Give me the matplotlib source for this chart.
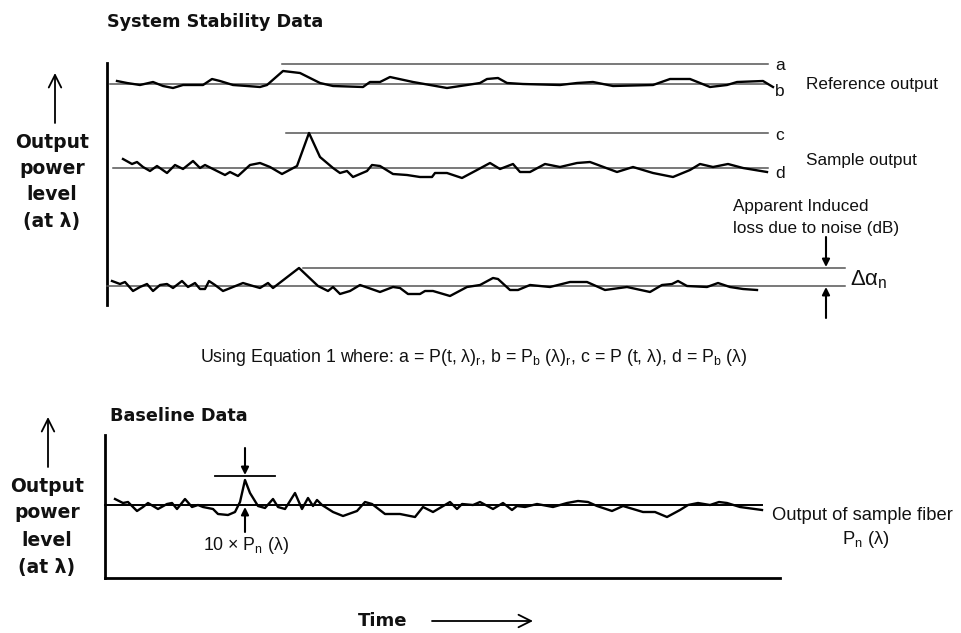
import matplotlib.pyplot as plt

plt.rcParams['mathtext.fontset'] = 'custom'
plt.rcParams['mathtext.rm'] = 'Liberation Sans'
plt.rcParams['mathtext.it'] = 'Liberation Sans:italic'

# traces (x = time, y = drawing units, down is larger)
ref_x = [117, 127, 140, 153, 163, 173, 183, 203, 212, 220, 233, 247, 260, 267, 283, 300,
         320, 333, 363, 370, 380, 390, 413, 447, 467, 480, 487, 498, 507, 523, 560, 577,
         593, 613, 653, 670, 690, 710, 727, 737, 763, 768, 773]
ref_y = [81, 83, 85, 82, 86, 88, 85, 85, 79, 81, 85, 86, 87, 85, 71, 73,
         83, 86, 87, 82, 82, 77, 82, 88, 85, 83, 79, 78, 83, 84, 85, 83,
         82, 86, 85, 79, 79, 87, 85, 82, 81, 84, 87]

samp_x = [123, 132, 137, 143, 150, 157, 167, 175, 183, 193, 200, 205, 213, 225, 230, 238,
          250, 260, 270, 282, 297, 309, 320, 333, 340, 347, 353, 367, 372, 380, 393, 407,
          420, 432, 435, 447, 462, 477, 490, 500, 513, 520, 530, 545, 560, 577, 590, 617,
          633, 653, 673, 690, 700, 713, 728, 743, 767]
samp_y = [159, 164, 162, 167, 171, 166, 173, 165, 169, 161, 168, 165, 169, 175, 172, 176,
          165, 163, 167, 174, 166, 133, 157, 168, 173, 171, 177, 171, 165, 166, 174, 175,
          177, 177, 173, 173, 178, 170, 163, 169, 164, 172, 172, 164, 167, 163, 162, 172,
          167, 173, 177, 170, 164, 167, 164, 168, 172]

noise_x = [112, 120, 125, 133, 140, 147, 153, 160, 167, 173, 182, 188, 195, 200, 205, 209,
           215, 223, 233, 243, 253, 260, 268, 273, 299, 318, 328, 333, 340, 350, 360, 380,
           393, 400, 408, 420, 425, 433, 450, 467, 480, 493, 498, 510, 518, 530, 550, 570,
           587, 605, 627, 650, 662, 672, 678, 687, 707, 718, 730, 743, 757]
noise_y = [281, 284, 282, 291, 287, 284, 291, 285, 284, 288, 281, 287, 283, 289, 289, 281,
           285, 291, 287, 283, 286, 288, 283, 288, 268, 286, 291, 287, 294, 291, 285, 292,
           287, 288, 294, 294, 291, 291, 296, 287, 285, 278, 279, 290, 290, 285, 287, 282,
           282, 290, 287, 292, 285, 284, 281, 286, 287, 283, 287, 289, 290]

base_x = [115, 123, 128, 137, 143, 148, 158, 167, 172, 177, 185, 192, 198, 203, 213, 218,
          228, 235, 240, 245, 250, 258, 265, 273, 278, 285, 295, 302, 308, 313, 317, 322,
          333, 343, 357, 365, 372, 385, 400, 415, 423, 433, 450, 457, 462, 473, 480, 493,
          503, 512, 517, 525, 537, 553, 567, 578, 588, 597, 612, 623, 643, 655, 667, 680,
          688, 698, 710, 719, 727, 740, 762]
base_y = [499, 503, 502, 511, 507, 503, 509, 504, 503, 509, 499, 507, 505, 507, 509, 514,
          515, 512, 502, 480, 493, 506, 508, 499, 507, 509, 493, 509, 498, 506, 500, 505,
          512, 516, 511, 502, 504, 514, 514, 517, 507, 512, 502, 509, 504, 505, 502, 509,
          503, 510, 506, 507, 504, 507, 503, 501, 502, 506, 511, 506, 512, 512, 517, 510,
          505, 503, 505, 502, 503, 507, 510]

fig = plt.figure(figsize=(9.61, 6.33), dpi=100)
ax = fig.add_axes([0, 0, 1, 1])
ax.set_xlim(0, 961)
ax.set_ylim(633, 0)
ax.axis('off')

reg = dict(family='Liberation Sans', color='#111111')
bold = dict(family='DejaVu Sans', fontweight='bold', color='#111111')
thin = dict(color='#555555', lw=1.1)
trace = dict(color='black', lw=1.7, solid_joinstyle='round')
small_arrow = dict(arrowstyle='-|>', color='black', lw=1.5,
                   mutation_scale=11, shrinkA=0, shrinkB=0)
open_arrow = dict(arrowstyle='->,head_length=0.9,head_width=0.45',
                  color='black', lw=1.3, shrinkA=0, shrinkB=0)

# ---- System stability panel ----
ax.text(107, 22, 'System Stability Data', fontsize=12.7, va='center', ha='left', **bold)
ax.plot([107, 107], [63, 305], color='black', lw=2.0)

ax.plot([110, 768], [84, 84], **thin)
ax.plot([282, 768], [64, 64], **thin)
ax.plot(ref_x, ref_y, **trace)
ax.text(775, 65, 'a', fontsize=12.5, va='center', **reg)
ax.text(775, 92, 'b', fontsize=12.5, va='center', **reg)
ax.text(806, 84, 'Reference output', fontsize=12.3, va='center', **reg)

ax.plot([113, 768], [168, 168], **thin)
ax.plot([286, 768], [133, 133], **thin)
ax.plot(samp_x, samp_y, **trace)
ax.text(775, 136, 'c', fontsize=12.5, va='center', **reg)
ax.text(775, 174, 'd', fontsize=12.5, va='center', **reg)
ax.text(806, 160, 'Sample output', fontsize=12.3, va='center', **reg)

ax.plot([107, 845], [286, 286], **thin)
ax.plot([303, 845], [268, 268], **thin)
ax.plot(noise_x, noise_y, **trace)
ax.text(733, 207, 'Apparent Induced', fontsize=12.3, va='center', **reg)
ax.text(733, 228, 'loss due to noise (dB)', fontsize=12.3, va='center', **reg)
ax.annotate('', xy=(826, 267), xytext=(826, 237), arrowprops=small_arrow)
ax.annotate('', xy=(826, 287), xytext=(826, 318), arrowprops=small_arrow)
ax.text(850, 280, r'Δα$_\mathrm{n}$', fontsize=16, va='center', **reg)

ax.annotate('', xy=(55, 73), xytext=(55, 123), arrowprops=open_arrow)
for txt, yy in zip(['Output', 'power', 'level', '(at λ)'], [143, 169, 195, 221]):
    ax.text(52, yy, txt, fontsize=13.5, ha='center', va='center', **bold)

ax.text(474, 357, r'Using Equation 1 where: a = P(t, λ)$_\mathrm{r}$, b = P$_\mathrm{b}$ (λ)$_\mathrm{r}$, '
        r'c = P (t, λ), d = P$_\mathrm{b}$ (λ)', fontsize=12.8, ha='center', va='center', **reg)

# ---- Baseline panel ----
ax.text(110, 416, 'Baseline Data', fontsize=12.7, va='center', ha='left', **bold)
ax.plot([105, 105], [435, 578], color='black', lw=2.0)
ax.plot([105, 780], [578, 578], color='black', lw=2.0)
ax.plot([105, 762], [505, 505], color='black', lw=1.4)
ax.plot(base_x, base_y, **trace)
ax.plot([215, 275], [476, 476], color='black', lw=1.3)
ax.annotate('', xy=(245, 475), xytext=(245, 448), arrowprops=small_arrow)
ax.annotate('', xy=(245, 507), xytext=(245, 532), arrowprops=small_arrow)
ax.text(246, 545, r'10 × P$_\mathrm{n}$ (λ)', fontsize=12.8, ha='center', va='center', **reg)
ax.text(772, 516, 'Output of sample fiber', fontsize=13.2, va='center', **reg)
ax.text(866, 540, r'P$_\mathrm{n}$ (λ)', fontsize=13.2, ha='center', va='center', **reg)

ax.annotate('', xy=(48, 417), xytext=(48, 467), arrowprops=open_arrow)
for txt, yy in zip(['Output', 'power', 'level', '(at λ)'], [487, 513, 540, 567]):
    ax.text(47, yy, txt, fontsize=13.5, ha='center', va='center', **bold)

ax.text(383, 621, 'Time', fontsize=13, ha='center', va='center', **bold)
ax.annotate('', xy=(533, 621), xytext=(432, 621), arrowprops=open_arrow)

fig.savefig('out.png', dpi=100)
